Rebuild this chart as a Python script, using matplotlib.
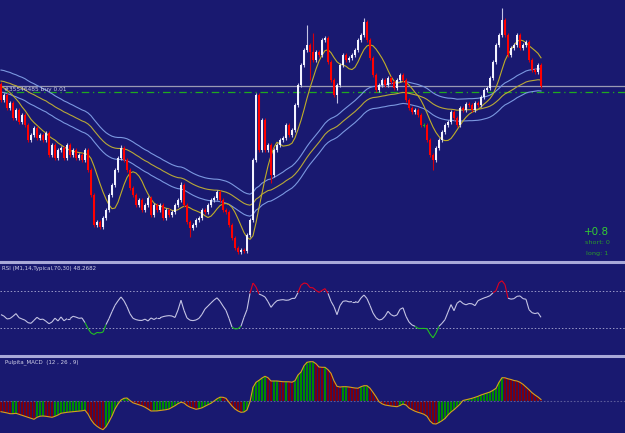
"""plot.py - MT4 style chart: candles + MA envelope, RSI and MACD panels."""

import numpy as np
import pandas as pd
import matplotlib
matplotlib.use("Agg")
import matplotlib.pyplot as plt
from matplotlib.collections import LineCollection

_BG = "#191970"
_SEP = "#a8a8d8"
_BULL = "#f2f2ff"
_BEAR = "#ff0000"
_LAV = "#c4c4e4"
_BAND = "#7b98e0"
_MID = "#b8a838"
_FAST = "#c0ae28"

# ── data ─────────────────────────────────────────────────────────────────────
history = [182, 178, 180, 176, 179, 175, 177, 172, 174, 170, 175, 178]
first_open = 176
closes = [
    160, 165, 152, 157, 142, 150, 138, 145, 135, 120, 125, 132, 122, 125, 120, 127,
    105, 115, 102, 110, 112, 102, 115, 105, 110, 102, 105, 100, 110, 90, 65, 35,
    38, 33, 42, 50, 65, 75, 90, 102, 112, 100, 90, 72, 65, 55, 60, 50,
    55, 62, 45, 55, 50, 55, 42, 50, 45, 48, 55, 60, 75, 55, 38, 32,
    35, 40, 42, 50, 48, 55, 60, 62, 68, 60, 50, 48, 35, 22, 12, 8,
    10, 9, 25, 40, 100, 165, 110, 140, 110, 115, 85, 110, 115, 120, 122, 135,
    125, 130, 155, 175, 195, 210, 215, 208, 200, 208, 205, 220, 222, 198, 180, 165,
    175, 195, 205, 200, 202, 205, 210, 220, 225, 238, 220, 202, 185, 170, 175, 180,
    175, 182, 178, 172, 180, 185, 180, 160, 152, 148, 150, 145, 135, 135, 120, 105,
    100, 112, 120, 128, 135, 138, 148, 142, 135, 152, 150, 156, 155, 150, 157, 155,
    163, 170, 172, 182, 198, 215, 225, 240, 225, 205, 212, 215, 225, 212, 215, 218,
    200, 190, 188, 195, 174,
]
wick = 2.0
spike_high = {40: 115, 60: 78, 85: 167, 102: 235, 104: 227, 121: 242, 167: 252}
spike_low = {63: 23, 90: 77, 103: 180, 112: 157, 144: 90}
order_price = 168
order_label = "#35546485 buy 0.01"

rsi = [
    44.8, 43.2, 40.1, 40.6, 43.0, 45.9, 41.5, 40.1, 38.8, 36.1, 35.4, 38.6, 41.9, 39.5, 39.9, 37.6,
    35.0, 36.8, 41.0, 37.9, 42.3, 38.1, 40.5, 40.5, 43.0, 42.1, 40.8, 41.2, 36.1, 29.8, 25.0, 23.3,
    25.5, 25.1, 25.9, 34.0, 40.5, 48.0, 54.9, 59.7, 63.9, 59.7, 53.4, 45.7, 40.8, 39.4, 38.6, 38.5,
    39.9, 37.9, 41.2, 39.5, 41.4, 41.4, 42.6, 43.3, 43.7, 43.3, 41.7, 49.8, 60.3, 49.5, 41.2, 38.8,
    38.3, 39.0, 40.8, 45.1, 50.9, 54.1, 57.4, 60.5, 63.0, 59.2, 54.1, 49.3, 40.8, 31.3, 29.3, 29.6,
    32.2, 41.9, 50.2, 67.8, 79.0, 74.7, 67.1, 65.7, 63.9, 58.8, 52.7, 56.8, 59.9, 60.6, 61.0, 60.3,
    60.6, 62.3, 62.4, 68.6, 76.5, 79.0, 78.3, 74.1, 73.8, 70.9, 68.9, 70.9, 72.9, 67.8, 59.2, 53.4,
    44.8, 54.5, 59.2, 59.7, 58.6, 58.8, 58.8, 57.9, 62.8, 66.0, 62.1, 54.7, 46.6, 41.5, 39.0, 39.7,
    43.0, 48.4, 44.8, 43.2, 44.4, 50.5, 52.2, 43.0, 36.8, 33.6, 32.2, 29.9, 29.8, 29.9, 29.6, 23.9,
    19.7, 25.0, 32.2, 35.4, 39.4, 47.5, 55.6, 49.1, 57.0, 59.7, 56.8, 55.4, 56.8, 56.5, 54.5, 59.9,
    61.4, 62.8, 63.9, 65.3, 68.4, 70.7, 79.2, 81.4, 77.2, 62.6, 61.5, 62.1, 64.6, 65.0, 62.1, 61.4,
    50.2, 46.9, 45.9, 46.8, 41.9,
]
rsi_label = "RSI (M1,14,Typical,70,30) 48.2682"

macd = [
    -11.0, -11.6, -12.2, -13.0, -13.0, -12.6, -13.6, -14.6, -15.6, -16.6, -17.6, -18.6, -16.6, -15.5, -15.3, -15.6,
    -16.1, -16.6, -15.6, -14.3, -12.6, -12.1, -11.6, -11.3, -11.1, -10.8, -10.5, -10.1, -9.5, -13.3, -19.0, -23.0,
    -25.6, -27.6, -29.0, -26.0, -21.0, -15.3, -8.3, -3.3, 0.7, 2.4, 2.7, 0.2, -2.1, -3.1, -4.1, -5.1,
    -6.5, -8.3, -10.3, -10.3, -10.2, -9.8, -9.5, -9.0, -8.3, -6.6, -5.0, -3.0, -1.5, -2.3, -4.8, -6.5,
    -7.6, -8.6, -8.0, -7.1, -5.5, -4.0, -2.6, -0.3, 1.9, 3.5, 3.4, 2.4, -1.6, -5.3, -8.3, -10.3,
    -11.6, -11.3, -9.3, -1.0, 13.4, 18.4, 20.4, 22.7, 24.4, 23.0, 19.7, 19.7, 19.7, 19.4, 19.0, 19.0,
    18.9, 18.5, 20.0, 25.7, 28.7, 35.0, 38.4, 39.0, 39.0, 37.0, 33.7, 33.4, 33.4, 31.0, 27.4, 19.9,
    14.4, 13.7, 14.0, 14.0, 13.7, 13.2, 12.7, 12.5, 14.0, 15.0, 15.0, 12.5, 8.4, 4.0, -1.0, -3.1,
    -4.3, -4.8, -5.3, -5.6, -6.0, -4.8, -3.3, -4.3, -7.3, -9.0, -10.5, -11.6, -12.5, -13.6, -15.6, -20.3,
    -23.0, -23.3, -21.8, -20.0, -17.8, -14.3, -11.3, -9.0, -6.3, -3.5, 0.2, 0.9, 1.7, 2.4, 3.4, 4.4,
    5.7, 6.7, 7.7, 8.7, 10.4, 12.4, 18.4, 23.0, 22.9, 21.9, 21.2, 20.2, 19.7, 18.4, 16.4, 13.7,
    11.0, 8.0, 5.7, 3.7, 1.2,
]
macd_label = "Pulpita_MACD  (12 , 26 , 9)"

profit_text = "+0.8"
short_text = "short: 0"
long_text = "long: 1"

# ── derived series ──────────────────────────────────────────────────────────
n = len(closes)
x = np.arange(n)
c = np.array(closes, dtype=float)
o = np.concatenate([[first_open], c[:-1]])
hi = np.maximum(o, c) + wick
lo = np.minimum(o, c) - wick
for k, v in spike_high.items():
    hi[k] = v
for k, v in spike_low.items():
    lo[k] = v

full = pd.Series(history + closes, dtype=float)
fast = full.rolling(8, min_periods=1).mean().rolling(2, min_periods=1).mean()
fast = fast.values[len(history):]
mid = full.ewm(span=50, adjust=False).mean().values[len(history):]
band = 11.0

# ── figure ──────────────────────────────────────────────────────────────────
fig = plt.figure(figsize=(6.25, 4.33), dpi=100)
fig.patch.set_facecolor(_BG)
H = 433.0
ax = fig.add_axes([0, (H - 262) / H, 1, 262 / H])
ax_r = fig.add_axes([0, (H - 356) / H, 1, 94 / H])
ax_m = fig.add_axes([0, 0, 1, 77 / H])

for a in (ax, ax_r, ax_m):
    a.set_facecolor(_BG)
    a.set_xlim(-0.33, 208)
    a.set_xticks([])
    a.set_yticks([])
    for sp in a.spines.values():
        sp.set_visible(False)
for a in (ax_r, ax_m):
    a.spines["top"].set_visible(True)
    a.spines["top"].set_color(_SEP)
    a.spines["top"].set_linewidth(2.2)

# main panel
ax.set_ylim(-2, 260)
ax.axhline(c[-1], color="#9a9ab4", lw=0.9)
ax.axhline(order_price, color="#1faa1f", lw=0.9, ls=(0, (6, 3, 1, 3)))
ax.plot(x, mid + band, color=_BAND, lw=0.8)
ax.plot(x, mid - band, color=_BAND, lw=0.8)
ax.plot(x, mid, color=_MID, lw=0.8)
ax.plot(x, fast, color=_FAST, lw=0.8)

doji = np.abs(c - o) < 1
up = (c > o) & ~doji
down = (c < o) & ~doji
wick_cols = np.where(up, _LAV, np.where(down, "#d00010", "#20a020"))
ax.vlines(x, lo, hi, colors=wick_cols, lw=0.8, zorder=3)
ax.bar(x[up], (c - o)[up], bottom=o[up], width=0.66, color=_BULL, lw=0, zorder=4)
ax.bar(x[down], (c - o)[down], bottom=o[down], width=0.66, color=_BEAR, lw=0, zorder=4)
ax.bar(x[doji], 1.0, bottom=o[doji] - 0.5, width=0.66, color="#20b020", lw=0, zorder=4)

ax.text(1.0, order_price + 2, order_label, color="#c8c8e0", fontsize=4.2, va="center")
fig.text(597 / 625, 1 - 232 / H, profit_text, color="#33cc33", fontsize=7.5,
         ha="center", va="center")
fig.text(597 / 625, 1 - 243 / H, short_text, color="#2a9a2a", fontsize=4.6,
         ha="center", va="center")
fig.text(597 / 625, 1 - 253 / H, long_text, color="#2a9a2a", fontsize=4.6,
         ha="center", va="center")

# RSI panel
r = np.array(rsi)
ax_r.set_ylim(0.05, 101.7)
for lvl in (70, 30):
    ax_r.axhline(lvl, color="#9a9ac8", lw=0.7, ls=(0, (1.5, 2)))
pts = np.column_stack([x, r])
segs = np.stack([pts[:-1], pts[1:]], axis=1)
seg_cols = []
for a0, a1 in zip(r[:-1], r[1:]):
    if max(a0, a1) > 70:
        seg_cols.append("#e00020")
    elif min(a0, a1) < 30:
        seg_cols.append("#22c022")
    else:
        seg_cols.append(_LAV)
ax_r.add_collection(LineCollection(segs, colors=seg_cols, linewidths=0.8))
ax_r.text(0.5, 97, rsi_label, color="#d0d0e8", fontsize=4.0, va="top")

# MACD panel
m = np.array(macd)
ax_m.set_ylim(-32.3, 44.7)
ax_m.axhline(0, color="#5a5a9a", lw=0.8, ls=(0, (1.5, 1.5)))
rising = np.concatenate([[False], m[1:] >= m[:-1]])
ax_m.bar(x, m, width=0.6, color=np.where(rising, "#008a00", "#7a0010"), lw=0)
ax_m.plot(x, m, color="#d4a020", lw=0.8)
ax_m.text(1.5, 41, macd_label, color="#d0d0e8", fontsize=4.0, va="top")

fig.savefig("out.png", dpi=100, facecolor=fig.get_facecolor())
